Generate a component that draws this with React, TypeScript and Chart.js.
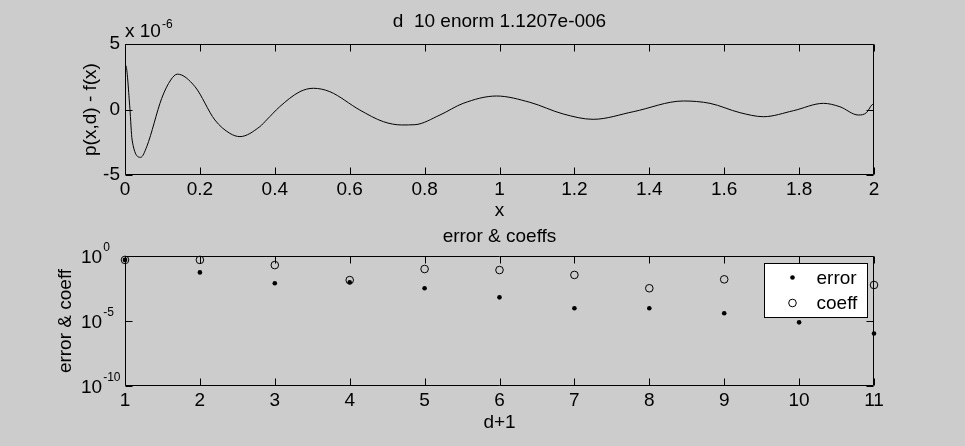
import React, { useEffect, useRef } from "react";
import { Chart, registerables } from "chart.js";

Chart.register(...registerables);

// ---------- data ----------
const topTitle = "d  10 enorm 1.1207e-006";
const topXLabel = "x";
const topYLabel = "p(x,d) - f(x)";
const topYExponent = "-6";
// x values and p(x,d)-f(x) in units of 1e-6
const curveX = [0, 0.003, 0.013, 0.019, 0.042, 0.058, 0.098, 0.122, 0.14, 0.187, 0.24, 0.28, 0.307, 0.36, 0.378, 0.413, 0.467, 0.503, 0.547, 0.627, 0.69, 0.739, 0.774, 0.841, 0.903, 0.992, 1.081, 1.17, 1.25, 1.357, 1.491, 1.562, 1.642, 1.705, 1.785, 1.865, 1.909, 1.958, 1.98, 1.994, 2.0];
const curveY = [3.4, 3.3, 0.1, -2.33, -3.65, -2.84, 0.85, 2.25, 2.7, 1.74, -0.8, -1.82, -2.07, -1.31, -0.8, 0.21, 1.36, 1.62, 1.36, -0.04, -0.93, -1.18, -1.16, -0.42, 0.47, 1.03, 0.55, -0.34, -0.75, -0.17, 0.65, 0.47, -0.24, -0.55, -0.09, 0.47, 0.21, -0.42, -0.24, 0.34, 0.45];
const topXTicks = [0, 0.2, 0.4, 0.6, 0.8, 1, 1.2, 1.4, 1.6, 1.8, 2];
const topYTicks = [-5, 0, 5];

const botTitle = "error & coeffs";
const botXLabel = "d+1";
const botYLabel = "error & coeff";
const dPlus1 = [1, 2, 3, 4, 5, 6, 7, 8, 9, 10, 11];
const errorVals = [0.5, 0.055, 0.008, 0.0093, 0.0033, 6.6e-4, 9.5e-5, 9.5e-5, 3.9e-5, 7.9e-6, 1.1e-6];
const coeffVals = [0.5, 0.5, 0.2, 0.014, 0.1, 0.083, 0.035, 0.0033, 0.016, 0.03, 0.0059];
const botXTicks = [1, 2, 3, 4, 5, 6, 7, 8, 9, 10, 11];
const botYTickExps = [0, -5, -10];
const seriesNames = ["error", "coeff"];

// ---------- styles ----------
const FONT = "'Liberation Sans', Arial, Helvetica, sans-serif";
const FS = 19;
const BG = "#cccccc";
const W = 965;
const H = 223;

const boxPlugin = {
  id: "matlabBox",
  afterDatasetsDraw(chart: any) {
    const { ctx, chartArea: a, scales } = chart;
    const L = 7;
    ctx.save();
    ctx.strokeStyle = "#000";
    ctx.lineWidth = 1;
    ctx.beginPath();
    const l = Math.round(a.left) + 0.5, r = Math.round(a.right) - 0.5;
    const t = Math.round(a.top) + 0.5, b = Math.round(a.bottom) - 0.5;
    ctx.rect(l, t, r - l, b - t);
    scales.x.ticks.forEach((tk: any) => {
      const p = Math.round(scales.x.getPixelForValue(tk.value)) + 0.5;
      ctx.moveTo(p, b); ctx.lineTo(p, b - L);
      ctx.moveTo(p, t); ctx.lineTo(p, t + L);
    });
    scales.y.ticks.forEach((tk: any) => {
      const p = Math.round(scales.y.getPixelForValue(tk.value)) + 0.5;
      ctx.moveTo(l, p); ctx.lineTo(l + L, p);
      ctx.moveTo(r, p); ctx.lineTo(r - L, p);
    });
    ctx.stroke();
    ctx.restore();
  },
};

const exponentPlugin = {
  id: "exponentLabel",
  afterDraw(chart: any) {
    const { ctx, chartArea: a } = chart;
    ctx.save();
    ctx.fillStyle = "#000";
    ctx.textAlign = "left";
    ctx.textBaseline = "alphabetic";
    ctx.font = `${FS}px ${FONT}`;
    const base = "x 10";
    ctx.fillText(base, a.left, a.top - 7);
    const w = ctx.measureText(base).width;
    ctx.font = `12px ${FONT}`;
    ctx.fillText(topYExponent, a.left + w + 1, a.top - 16);
    ctx.restore();
  },
};

const logTickPlugin = {
  id: "logTicks",
  afterDraw(chart: any) {
    const { ctx, scales } = chart;
    ctx.save();
    ctx.fillStyle = "#000";
    ctx.textAlign = "left";
    ctx.textBaseline = "alphabetic";
    botYTickExps.forEach((e) => {
      const p = scales.y.getPixelForValue(Math.pow(10, e));
      ctx.font = `${FS}px ${FONT}`;
      ctx.fillText("10", 81, p + 7);
      const w = ctx.measureText("10").width;
      ctx.font = `12px ${FONT}`;
      ctx.fillText(String(e), 81 + w + 1, p - 5);
    });
    ctx.restore();
  },
};

const legendPlugin = {
  id: "boxLegend",
  afterDatasetsDraw(chart: any) {
    const { ctx, chartArea: a } = chart;
    const bw = 103, bh = 54;
    const x0 = Math.round(a.right - 7 - bw) + 0.5;
    const y0 = Math.round(a.top + 7) + 0.5;
    ctx.save();
    ctx.fillStyle = "#fff";
    ctx.strokeStyle = "#000";
    ctx.lineWidth = 1;
    ctx.fillRect(x0, y0, bw, bh);
    ctx.strokeRect(x0, y0, bw, bh);
    ctx.font = `${FS}px ${FONT}`;
    ctx.textAlign = "left";
    ctx.textBaseline = "middle";
    chart.data.datasets.forEach((ds: any, i: number) => {
      const cy = y0 + 14 + i * 25.5;
      const cx = x0 + 28;
      ctx.beginPath();
      if (i === 0) {
        ctx.fillStyle = "#000";
        ctx.arc(cx, cy, ds.pointRadius, 0, Math.PI * 2);
        ctx.fill();
      } else {
        ctx.arc(cx, cy, ds.pointRadius, 0, Math.PI * 2);
        ctx.stroke();
      }
      ctx.fillStyle = "#000";
      ctx.fillText(ds.label, x0 + 52, cy + 1);
    });
    ctx.restore();
  },
};

function fixAxis(size: number, horizontal: boolean) {
  return (scale: any) => {
    if (horizontal) scale.height = size;
    else scale.width = size;
  };
}

export default function App() {
  const topRef = useRef<HTMLCanvasElement>(null);
  const botRef = useRef<HTMLCanvasElement>(null);

  useEffect(() => {
    Chart.defaults.font.family = FONT;
    Chart.defaults.color = "#000";

    const topChart = new Chart(topRef.current!, {
      type: "line",
      data: {
        datasets: [
          {
            label: "p-f",
            data: curveX.map((x, i) => ({ x, y: curveY[i] })),
            borderColor: "#000",
            borderWidth: 1,
            pointRadius: 0,
            cubicInterpolationMode: "monotone",
            fill: false,
          },
        ],
      },
      options: {
        animation: false,
        responsive: false,
        events: [],
        layout: { padding: { left: 0, right: 91, top: 0, bottom: 0 } },
        plugins: {
          legend: { display: false },
          tooltip: { enabled: false },
          title: {
            display: true,
            text: topTitle,
            color: "#000",
            font: { size: FS, weight: "normal", family: FONT },
            padding: { top: 10.6, bottom: 10.6 },
            fullSize: false,
          },
        },
        scales: {
          x: {
            type: "linear",
            min: 0,
            max: 2,
            afterBuildTicks: (s: any) => { s.ticks = topXTicks.map((v) => ({ value: v })); },
            afterFit: fixAxis(48, true),
            grid: { display: false, drawTicks: false, tickLength: 0 },
            border: { display: false },
            ticks: { padding: 3.6, color: "#000", font: { size: FS }, maxRotation: 0, autoSkip: false, callback: (v: any) => String(v) },
            title: { display: true, text: topXLabel, color: "#000", font: { size: FS }, padding: { top: 0, bottom: 0.5 } },
          },
          y: {
            type: "linear",
            min: -5,
            max: 5,
            afterBuildTicks: (s: any) => { s.ticks = topYTicks.map((v) => ({ value: v })); },
            afterFit: fixAxis(125, false),
            grid: { display: false, drawTicks: false, tickLength: 0 },
            border: { display: false },
            ticks: { padding: 5, color: "#000", font: { size: FS }, autoSkip: false, callback: (v: any) => String(v) },
            title: { display: true, text: topYLabel, color: "#000", font: { size: FS }, padding: { top: 79.6, bottom: 0 } },
          },
        },
      } as any,
      plugins: [boxPlugin, exponentPlugin],
    });

    const botChart = new Chart(botRef.current!, {
      type: "scatter",
      data: {
        datasets: [
          {
            label: seriesNames[0],
            data: dPlus1.map((x, i) => ({ x, y: errorVals[i] })),
            pointStyle: "circle",
            pointRadius: 2.3,
            backgroundColor: "#000",
            borderColor: "#000",
            borderWidth: 0,
            clip: false,
          },
          {
            label: seriesNames[1],
            data: dPlus1.map((x, i) => ({ x, y: coeffVals[i] })),
            pointStyle: "circle",
            pointRadius: 3.8,
            backgroundColor: "rgba(0,0,0,0)",
            borderColor: "#000",
            borderWidth: 1,
            clip: false,
          },
        ],
      },
      options: {
        animation: false,
        responsive: false,
        events: [],
        layout: { padding: { left: 0, right: 91, top: 0, bottom: 0 } },
        plugins: {
          legend: { display: false },
          tooltip: { enabled: false },
          title: {
            display: true,
            text: botTitle,
            color: "#000",
            font: { size: FS, weight: "normal", family: FONT },
            padding: { top: 2.6, bottom: 7.6 },
            fullSize: false,
          },
        },
        scales: {
          x: {
            type: "linear",
            min: 1,
            max: 11,
            afterBuildTicks: (s: any) => { s.ticks = botXTicks.map((v) => ({ value: v })); },
            afterFit: fixAxis(60, true),
            grid: { display: false, drawTicks: false, tickLength: 0 },
            border: { display: false },
            ticks: { padding: 3.6, color: "#000", font: { size: FS }, maxRotation: 0, autoSkip: false, callback: (v: any) => String(v) },
            title: { display: true, text: botXLabel, color: "#000", font: { size: FS }, padding: { top: 0, bottom: 11.6 } },
          },
          y: {
            type: "logarithmic",
            min: 1e-10,
            max: 1,
            afterBuildTicks: (s: any) => { s.ticks = botYTickExps.map((e) => ({ value: Math.pow(10, e) })); },
            afterFit: fixAxis(125, false),
            grid: { display: false, drawTicks: false, tickLength: 0 },
            border: { display: false },
            ticks: { display: false },
            title: { display: true, text: botYLabel, color: "#000", font: { size: FS }, padding: { top: 54.6, bottom: 0 } },
          },
        },
      } as any,
      plugins: [boxPlugin, legendPlugin, logTickPlugin],
    });

    return () => {
      topChart.destroy();
      botChart.destroy();
    };
  }, []);

  return (
    <div style={{ position: "absolute", left: 0, top: 0, width: W, height: 2 * H, background: BG, overflow: "hidden" }}>
      <canvas ref={topRef} width={W} height={H} style={{ position: "absolute", left: 0, top: 0, width: W, height: H }} />
      <canvas ref={botRef} width={W} height={H} style={{ position: "absolute", left: 0, top: H, width: W, height: H }} />
    </div>
  );
}
